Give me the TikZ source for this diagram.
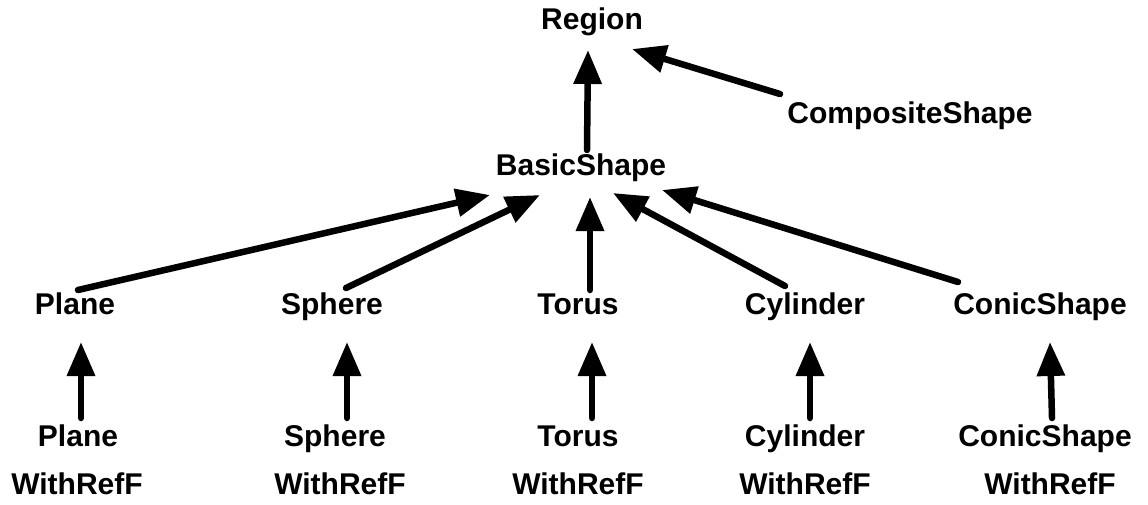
\documentclass[tikz,border=0pt]{standalone}
\usepackage{fontspec}
\setmainfont{Liberation Sans}
\usetikzlibrary{arrows.meta}
\tikzset{
  lbl/.style={font=\fontsize{30}{36}\selectfont\bfseries, inner sep=0pt, text height=22pt, text depth=6pt, anchor=center},
  inh/.style={line width=6.5pt, line cap=round, -{Triangle[length=34pt,width=27pt]}},
}
\begin{document}
\begin{tikzpicture}[x=1pt,y=-1pt]
\useasboundingbox (0,0) rectangle (1148,505);
% nodes
\node[lbl] (region) at (592,22) {Region};
\node[lbl] (comp) at (910,116) {CompositeShape};
\node[lbl] (basic) at (581,168) {BasicShape};
\node[lbl] (plane) at (75,306) {Plane};
\node[lbl] (sphere) at (332,306) {Sphere};
\node[lbl] (torus) at (578,306) {Torus};
\node[lbl] (cyl) at (805,306) {Cylinder};
\node[lbl] (conic) at (1040,306) {ConicShape};
\node[lbl] (planeb) at (78,438) {Plane};
\node[lbl] (sphereb) at (335,438) {Sphere};
\node[lbl] (torusb) at (578,438) {Torus};
\node[lbl] (cylb) at (805,438) {Cylinder};
\node[lbl] (conicb) at (1045,438) {ConicShape};
\node[lbl] (planew) at (77,486) {WithRefF};
\node[lbl] (spherew) at (340,486) {WithRefF};
\node[lbl] (torusw) at (578,486) {WithRefF};
\node[lbl] (cylw) at (805,486) {WithRefF};
\node[lbl] (conicw) at (1050,486) {WithRefF};
% connectors
\draw[inh] ([shift={(6,-18)}]basic.center) -- ([shift={(-4,28)}]region.center);
\draw[inh] ([shift={(-130,-22)}]comp.center) -- ([shift={(40,27)}]region.center);
\draw[inh] ([shift={(3,-16)}]plane.center) -- ([shift={(-91,27)}]basic.center);
\draw[inh] ([shift={(14,-18)}]sphere.center) -- ([shift={(-41,27)}]basic.center);
\draw[inh] ([shift={(12,-16)}]torus.center) -- ([shift={(9,29)}]basic.center);
\draw[inh] ([shift={(-20,-20)}]cyl.center) -- ([shift={(32,25)}]basic.center);
\draw[inh] ([shift={(-82,-24)}]conic.center) -- ([shift={(81,22)}]basic.center);
\draw[inh] ([shift={(3,-20)}]planeb.center) -- ([shift={(6,36)}]plane.center);
\draw[inh] ([shift={(12,-20)}]sphereb.center) -- ([shift={(15,36)}]sphere.center);
\draw[inh] ([shift={(14,-20)}]torusb.center) -- ([shift={(14,36)}]torus.center);
\draw[inh] ([shift={(5,-20)}]cylb.center) -- ([shift={(5,36)}]cyl.center);
\draw[inh] ([shift={(7,-20)}]conicb.center) -- ([shift={(10,36)}]conic.center);
\end{tikzpicture}
\end{document}
